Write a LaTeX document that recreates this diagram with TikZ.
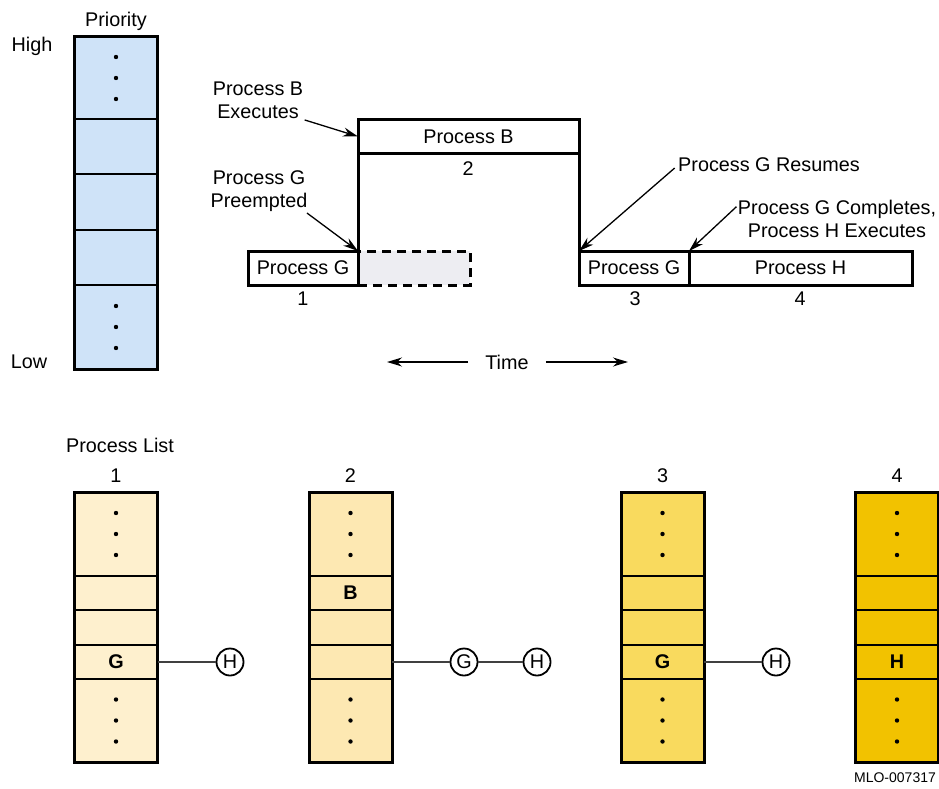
\documentclass[tikz,border=0pt]{standalone}
\usepackage{fontspec}
\setmainfont{Liberation Sans}
\usetikzlibrary{positioning,arrows.meta}

\newcommand{\diagfont}{\fontsize{19.8}{23}\selectfont}

\definecolor{prioblue}{HTML}{CFE3F8}
\definecolor{waitgrey}{HTML}{EDEDF2}
\definecolor{listA}{HTML}{FEF0CE}
\definecolor{listB}{HTML}{FDE8B2}
\definecolor{listC}{HTML}{F9DA5E}
\definecolor{listD}{HTML}{F2C200}

\tikzset{
  cell/.style={draw, line width=1.8pt, minimum width=83pt, inner sep=0pt, outer sep=0pt, font=\diagfont\bfseries},
  frame/.style={line width=3pt},
  pbox/.style={draw, fill=white, line width=3pt, minimum height=34pt, inner sep=0pt, outer sep=0pt},
  stepline/.style={line width=3pt},
  note/.style={align=center},
  pointer/.style={-{Stealth[length=15pt,width=9pt]}, line width=1.3pt},
  link/.style={line width=1.5pt, draw=black!75},
  ring/.style={circle, draw, fill=white, line width=1.8pt, minimum size=27pt, inner sep=0pt},
}

\begin{document}
\begin{tikzpicture}[x=1pt,y=-1pt,font=\diagfont]
\useasboundingbox (0,0) rectangle (939,789);

% priority column
\node[cell, fill=prioblue, minimum height=82pt] (pr1) at (116,78) {};
\node[cell, fill=prioblue, minimum height=55pt, below=0pt of pr1] (pr2) {};
\node[cell, fill=prioblue, minimum height=56pt, below=0pt of pr2] (pr3) {};
\node[cell, fill=prioblue, minimum height=55pt, below=0pt of pr3] (pr4) {};
\node[cell, fill=prioblue, minimum height=84pt, below=0pt of pr4] (pr5) {};
\draw[frame] (pr1.north west) rectangle (pr5.south east);
\foreach \d in {-21,0,21} {
  \fill ([yshift=\d pt]pr1.center) circle (2.2pt);
  \fill ([yshift=\d pt]pr5.center) circle (2.2pt);
}
\node[above=3pt of pr1] (prio) {Priority};
\node (high) at (32,46) {High};
\node (low) at (29,362) {Low};

% time line, waiting part of G first
\node[pbox, fill=waitgrey, dash pattern=on 9pt off 6pt, minimum width=112pt] (gwait) at (414,268) {};
\node[pbox, minimum width=110pt] (pg1) at (303,268) {Process G};
\node[pbox, minimum width=221pt] (pb) at (468.5,136.5) {Process B};
\node[pbox, minimum width=110pt] (pg3) at (634,268) {Process G};
\node[pbox, minimum width=223pt] (ph) at (800.5,268) {Process H};
\draw[stepline] (pb.south west) -- (pg1.north east);
\draw[stepline] (pb.south east) -- (pg3.north west);
\node (t1) at (303,299) {1};
\node (t2) at (468,169) {2};
\node (t3) at (635,299) {3};
\node (t4) at (800,299) {4};

% notes
\node[note] (bexec) at (258,100) {Process B\\Executes};
\node[note] (gpre) at (259,191) {Process G\\Preempted};
\node (gres) at (769,165) {Process G Resumes};
\node[note] (gcomp) at (837,219) {Process G Completes,\\Process H Executes};
\draw[pointer] ([xshift=-2pt,yshift=2pt]bexec.south east) -- (pb.west);
\draw[pointer] ([xshift=-4pt,yshift=2pt]gpre.south east) -- (pg1.north east);
\draw[pointer] ([yshift=-3pt]gres.west) -- (pg3.north west);
\draw[pointer] ([xshift=2pt,yshift=-10pt]gcomp.north west) -- (ph.north west);

% time axis
\node[inner xsep=17pt] (time) at (507,362) {Time};
\coordinate (tleft) at (387,362);
\coordinate (tright) at (628,362);
\draw[pointer] (time.west) -- (tleft);
\draw[pointer] (time.east) -- (tright);

% process lists
\node (plist) at (120,445) {Process List};
\foreach \c/\x/\col/\rb/\rd in {1/116/listA/{}/G, 2/350.5/listB/B/{}, 3/662.5/listC/{}/G, 4/897/listD/{}/H} {
  \node[cell, fill=\col, minimum height=84pt] (l\c-r1) at (\x,534) {};
  \node[cell, fill=\col, minimum height=34pt, below=0pt of l\c-r1] (l\c-r2) {\rb};
  \node[cell, fill=\col, minimum height=35pt, below=0pt of l\c-r2] (l\c-r3) {};
  \node[cell, fill=\col, minimum height=34pt, below=0pt of l\c-r3] (l\c-r4) {\rd};
  \node[cell, fill=\col, minimum height=83pt, below=0pt of l\c-r4] (l\c-r5) {};
  \draw[frame] (l\c-r1.north west) rectangle (l\c-r5.south east);
  \node[above=6pt of l\c-r1] (n\c) {\c};
  \foreach \d in {-21,0,21} {
    \fill ([yshift=\d pt]l\c-r1.center) circle (2.2pt);
    \fill ([yshift=\d pt]l\c-r5.center) circle (2.2pt);
  }
}

% waiting chains
\node[ring] (h1) at (230,662) {H};
\node[ring] (g2) at (464,662) {G};
\node[ring] (h2) at (537,662) {H};
\node[ring] (h3) at (776,662) {H};
\draw[link] (l1-r4.east) -- (h1);
\draw[link] (l2-r4.east) -- (g2) -- (h2);
\draw[link] (l3-r4.east) -- (h3);

\node[font=\fontsize{14}{16}\selectfont] (mlo) at (895,778) {MLO-007317};
\end{tikzpicture}
\end{document}
